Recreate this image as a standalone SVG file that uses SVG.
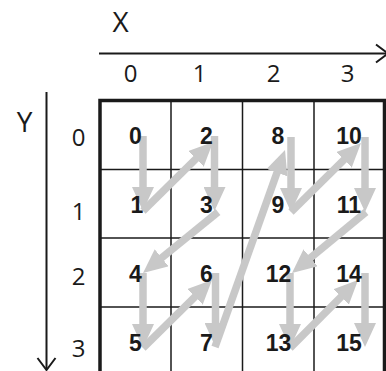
<svg xmlns="http://www.w3.org/2000/svg" width="386" height="371" viewBox="0 0 386 371">
<defs>
<style>
.axis{stroke:#1a1a1a;stroke-width:2;fill:none}
.axlbl{font-family:"Open Sans","Liberation Sans",sans-serif;font-size:28px;fill:#1a1a1a;text-anchor:middle}
.idx{font-family:"Open Sans","Liberation Sans",sans-serif;font-size:24px;fill:#1a1a1a;text-anchor:middle}
.grid{stroke:#1a1a1a;stroke-width:1.5;fill:none}
.border{stroke:#1a1a1a;stroke-width:3.5;fill:none}
.arr{stroke:#c8c8c8;stroke-width:7.5;fill:none;marker-end:url(#head)}
.num{font-family:"Liberation Sans",Arial,sans-serif;font-weight:bold;font-size:23px;fill:#1a1a1a;text-anchor:middle}
</style>
<marker id="head" markerUnits="userSpaceOnUse" viewBox="0 0 24 22" markerWidth="24" markerHeight="22" refX="6" refY="11" orient="auto">
<path d="M0,0 L24,11 L0,22 Z" fill="#c8c8c8"/>
</marker>
</defs>
<rect width="386" height="371" fill="#ffffff"/>
<g id="axes">
<line class="axis" x1="99" y1="53.5" x2="388" y2="53.5"/>
<polyline class="axis" points="376,44.5 388,53.5 376,62.5"/>
<line class="axis" x1="46.5" y1="92" x2="46.5" y2="369"/>
<polyline class="axis" points="37.5,358 46.5,370 55.5,358"/>
<text class="axlbl" x="120.5" y="32">X</text>
<text class="axlbl" x="24.5" y="132">Y</text>
<text class="idx" x="130.5" y="82">0</text>
<text class="idx" x="199.5" y="82">1</text>
<text class="idx" x="273.5" y="82">2</text>
<text class="idx" x="347.5" y="82">3</text>
<text class="idx" x="78.5" y="146">0</text>
<text class="idx" x="78.5" y="220">1</text>
<text class="idx" x="78.5" y="285">2</text>
<text class="idx" x="78.5" y="357">3</text>
</g>
<g id="grid">
<line class="grid" x1="171" y1="100" x2="171" y2="376"/>
<line class="grid" x1="242.5" y1="100" x2="242.5" y2="376"/>
<line class="grid" x1="314" y1="100" x2="314" y2="376"/>
<line class="grid" x1="100" y1="169.5" x2="384.5" y2="169.5"/>
<line class="grid" x1="100" y1="238" x2="384.5" y2="238"/>
<line class="grid" x1="100" y1="307" x2="384.5" y2="307"/>
<polyline class="border" points="100,376 100,100.5 384.5,100.5 384.5,376"/>
</g>
<g id="connectors">
<line class="arr" x1="143" y1="136" x2="143" y2="193"/>
<line class="arr" x1="143" y1="211" x2="200.2" y2="154.6"/>
<line class="arr" x1="214.5" y1="136" x2="214.5" y2="193"/>
<line class="arr" x1="218" y1="212" x2="157" y2="261.6"/>
<line class="arr" x1="143" y1="273" x2="143" y2="330"/>
<line class="arr" x1="143" y1="348" x2="199.2" y2="292.6"/>
<line class="arr" x1="215.5" y1="273" x2="215.5" y2="329"/>
<line class="arr" x1="215" y1="347" x2="279" y2="167"/>
<line class="arr" x1="291" y1="137" x2="291" y2="194"/>
<line class="arr" x1="291" y1="212" x2="348.2" y2="155.6"/>
<line class="arr" x1="365" y1="137" x2="365" y2="194"/>
<line class="arr" x1="366" y1="212" x2="305.9" y2="261.6"/>
<line class="arr" x1="290" y1="273" x2="290" y2="330"/>
<line class="arr" x1="290" y1="348" x2="345.3" y2="292.7"/>
<line class="arr" x1="365" y1="273" x2="365" y2="329"/>
</g>
<g id="n0"><text class="num" x="135.5" y="144">0</text></g>
<g id="n1"><text class="num" x="137" y="213">1</text></g>
<g id="n2"><text class="num" x="206.5" y="144">2</text></g>
<g id="n3"><text class="num" x="206.5" y="213">3</text></g>
<g id="n4"><text class="num" x="135.5" y="282">4</text></g>
<g id="n5"><text class="num" x="135.5" y="351">5</text></g>
<g id="n6"><text class="num" x="206.5" y="282">6</text></g>
<g id="n7"><text class="num" x="206.5" y="351">7</text></g>
<g id="n8"><text class="num" x="278" y="144">8</text></g>
<g id="n9"><text class="num" x="278" y="213">9</text></g>
<g id="n10"><text class="num" x="349" y="144">10</text></g>
<g id="n11"><text class="num" x="349" y="213">11</text></g>
<g id="n12"><text class="num" x="278.5" y="282">12</text></g>
<g id="n13"><text class="num" x="278.5" y="351">13</text></g>
<g id="n14"><text class="num" x="349" y="282">14</text></g>
<g id="n15"><text class="num" x="349" y="351">15</text></g>
</svg>
